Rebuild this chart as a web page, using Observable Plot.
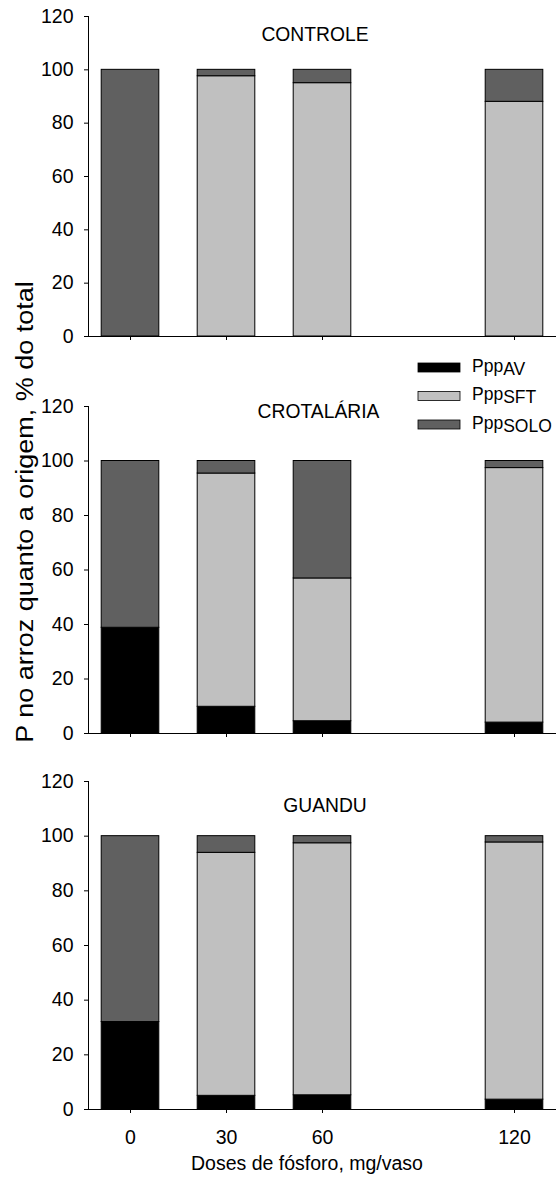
<!DOCTYPE html>
<html><head><meta charset="utf-8">
<script src="https://cdn.jsdelivr.net/npm/d3@7"></script>
<script src="https://cdn.jsdelivr.net/npm/@observablehq/plot@0.6"></script>
<style>
body{margin:0;background:#fff;}
#wrap{position:relative;width:556px;height:1186px;font-family:"Liberation Sans",Arial,sans-serif;}
#wrap > svg{position:absolute;left:0;}
</style></head><body><div id="wrap"></div>
<script>
// ---- data ----
const doses = [0, 30, 60, 120];
const components = ["AV", "SFT", "SOLO"];
const panels = ["CONTROLE", "CROTALÁRIA", "GUANDU"];
const yTicks = [0, 20, 40, 60, 80, 100, 120];
const colors = ["#000000", "#c0c0c0", "#606060"];

const controleAV   = [0, 0, 0, 0];
const controleSFT  = [0, 97.6, 95, 88];
const controleSOLO = [100, 2.4, 5, 12];

const crotalariaAV   = [38.8, 9.8, 4.5, 4];
const crotalariaSFT  = [0, 85.6, 52.4, 93.4];
const crotalariaSOLO = [61.2, 4.6, 43.1, 2.6];

const guanduAV   = [32, 5, 5.2, 3.6];
const guanduSFT  = [0, 88.9, 92.2, 94.1];
const guanduSOLO = [68, 6.1, 2.6, 2.3];

const yLabel = "P no arroz quanto a origem, % do total";
const xLabel = "Doses de fósforo, mg/vaso";

function rows(av, sft, solo) {
  const out = [];
  doses.forEach((d, i) => {
    out.push({dose: d, comp: "AV", value: av[i]});
    out.push({dose: d, comp: "SFT", value: sft[i]});
    out.push({dose: d, comp: "SOLO", value: solo[i]});
  });
  return out;
}
const panelData = [
  rows(controleAV, controleSFT, controleSOLO),
  rows(crotalariaAV, crotalariaSFT, crotalariaSOLO),
  rows(guanduAV, guanduSFT, guanduSOLO)
];

// ---- layout ----
const FONT = '"Liberation Sans", Arial, sans-serif';
const xDomain = [-13.125, 133.125];
const halfWidth = 9;
const layout = [
  {top: 0,   frame: 320, mb: 14, labels: false},
  {top: 390, frame: 327, mb: 14, labels: false},
  {top: 765, frame: 328, mb: 50, labels: true}
];

const wrap = document.getElementById("wrap");

panelData.forEach((data, p) => {
  const L = layout[p];
  const chart = Plot.plot({
    width: 556,
    height: 16 + L.frame + L.mb,
    marginLeft: 88, marginRight: 0, marginTop: 16, marginBottom: L.mb,
    style: {fontFamily: FONT, fontSize: "19.5px", color: "#000", background: "transparent", overflow: "visible"},
    x: {domain: xDomain, ticks: doses, tickSize: 4, tickPadding: 17,
        tickFormat: L.labels ? (d => String(d)) : (() => ""), label: null},
    y: {domain: [0, 120], ticks: yTicks, tickSize: 4, tickPadding: 11, label: null},
    color: {domain: components, range: colors},
    marks: [
      Plot.rectY(data, Plot.stackY({
        x: "dose",
        x1: d => d.dose - halfWidth,
        x2: d => d.dose + halfWidth,
        y: "value",
        fill: "comp",
        stroke: "#000",
        strokeWidth: 1
      })),
      Plot.ruleY([0], {stroke: "#000"}),
      Plot.ruleX([xDomain[0]], {y1: 0, y2: 120, stroke: "#000"})
    ]
  });
  chart.style.top = L.top + "px";
  wrap.appendChild(chart);
});

// ---- overlay texts: titles, legend, axis labels ----
const ov = d3.create("svg")
  .attr("width", 556).attr("height", 1186)
  .style("position", "absolute").style("top", "0px").style("left", "0px")
  .style("pointer-events", "none")
  .attr("font-family", FONT);

const titlePos = [[315, 40.5], [318.5, 418], [325, 812]];
panels.forEach((t, i) => {
  ov.append("text").attr("x", titlePos[i][0]).attr("y", titlePos[i][1])
    .attr("text-anchor", "middle").attr("font-size", 19.3).attr("fill", "#000").text(t);
});

const legendY = [367.5, 396, 424.5];
components.forEach((c, i) => {
  ov.append("rect").attr("x", 418).attr("y", legendY[i] - 4.5)
    .attr("width", 42).attr("height", 9)
    .attr("fill", colors[i]).attr("stroke", "#000").attr("stroke-width", 0.8);
  const t = ov.append("text").attr("x", 472).attr("y", legendY[i] + 4.2)
    .attr("font-size", 17.5).attr("fill", "#000");
  t.append("tspan").text("Ppp");
  t.append("tspan").attr("dy", 3).text(c);
});

ov.append("text")
  .attr("transform", "translate(33,512) rotate(-90) scale(1.125,1)")
  .attr("text-anchor", "middle").attr("font-size", 24).attr("fill", "#000")
  .text(yLabel);

ov.append("text")
  .attr("x", 307).attr("y", 1170)
  .attr("text-anchor", "middle").attr("font-size", 19.5).attr("fill", "#000")
  .text(xLabel);

wrap.appendChild(ov.node());
</script></body></html>
